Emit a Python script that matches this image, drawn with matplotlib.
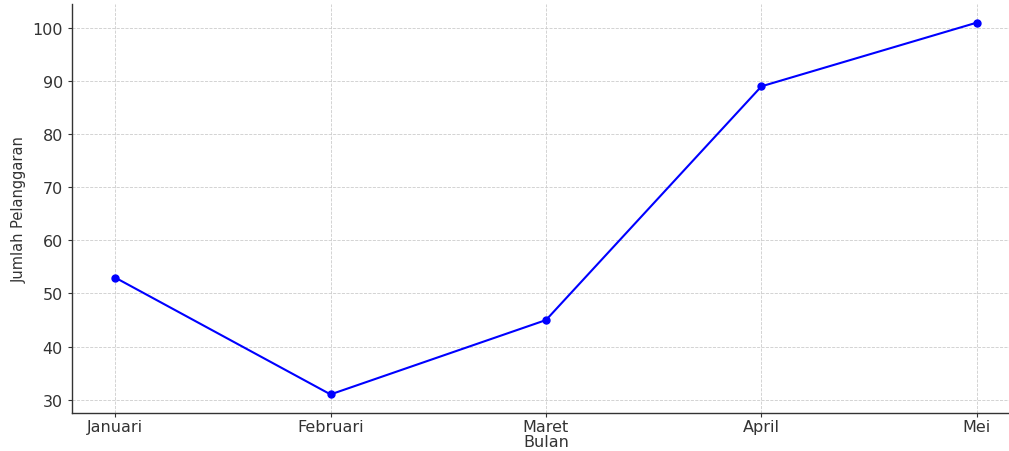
import matplotlib
matplotlib.use('Agg')
import matplotlib.pyplot as plt

bulan = ['Januari', 'Februari', 'Maret', 'April', 'Mei']
jumlah = [53, 31, 45, 89, 101]
yticks = [30, 40, 50, 60, 70, 80, 90, 100]

fig = plt.figure(figsize=(10.09, 4.52), dpi=100)
# axes runs a little past the right edge, like the reference crop
ax = fig.add_axes([72 / 1009, 38 / 452, 948 / 1009, 409 / 452])

ax.plot(range(len(bulan)), jumlah, color='#0000ff', linewidth=1.5, marker='o', markersize=5)

ax.set_xticks(range(len(bulan)))
ax.set_xticklabels(bulan)
ax.set_yticks(yticks)
ax.margins(x=0.05, y=0.05)

ax.grid(True, linestyle='--', linewidth=0.6, color='#cccccc')
ax.set_axisbelow(True)
for side in ['top', 'right']:
    ax.spines[side].set_visible(False)
for side in ['left', 'bottom']:
    ax.spines[side].set_color('#333333')
    ax.spines[side].set_linewidth(1.0)
ax.tick_params(direction='out', length=3, width=0.8, colors='#333333', labelsize=11.5)
ax.tick_params(axis='x', pad=1.5)

ax.set_xlabel('Bulan', fontsize=11.5, color='#333333', labelpad=0)
ax.set_ylabel('Jumlah Pelanggaran', fontsize=10.5, color='#333333', labelpad=4)

fig.savefig('out.png', dpi=100)
